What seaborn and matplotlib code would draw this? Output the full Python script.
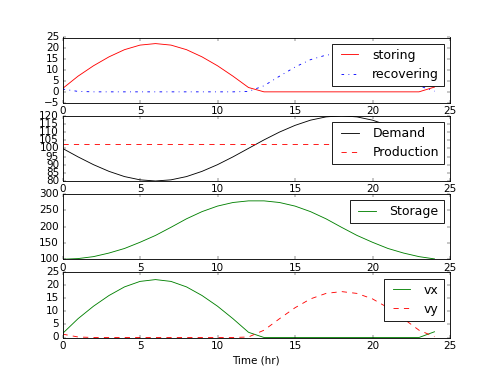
import pandas as pd
import matplotlib
matplotlib.use("Agg")
import matplotlib.pyplot as plt
import seaborn as sns

# Hourly values
hours = list(range(25))

storing = [1.5, 7.2, 12.0, 16.1, 19.4, 21.5, 22.2, 21.5, 19.4, 16.1, 12.0, 7.2, 2.0,
           0, 0, 0, 0, 0, 0, 0, 0, 0, 0, 0, 2.2]
recovering = [1.3, 0.2, 0, 0, 0, 0, 0, 0, 0, 0, 0, 0, 0.2,
              2.8, 7.2, 11.4, 14.8, 16.9, 17.6, 16.9, 14.8, 11.4, 7.2, 2.8, 0.3]

demand = [100.0, 94.8, 90.0, 85.9, 82.7, 80.7, 80.0, 80.7, 82.7, 85.9, 90.0, 94.8, 100.0,
          105.2, 110.0, 114.1, 117.3, 119.3, 120.0, 119.3, 117.3, 114.1, 110.0, 105.2, 100.0]
production = [102.5] * 25

storage = [100, 102, 108, 119, 133, 152, 173, 198, 224, 246, 263, 274, 279,
           279, 274, 263, 246, 224, 198, 173, 152, 133, 119, 108, 101]

# vx / vy are the same charge / discharge rates
vx = storing
vy = recovering

df = pd.DataFrame({
    "t": hours,
    "storing": storing,
    "recovering": recovering,
    "Demand": demand,
    "Production": production,
    "Storage": storage,
    "vx": vx,
    "vy": vy,
})

# old-school matplotlib look
plt.style.use("classic")

fig = plt.figure(figsize=(8, 6))

# Panel 1: storing / recovering
ax1 = plt.subplot(4, 1, 1)
sns.lineplot(data=df, x="t", y="storing", color="r", linestyle="-", label="storing", ax=ax1)
sns.lineplot(data=df, x="t", y="recovering", color="b", linestyle="-.", label="recovering", ax=ax1)
ax1.set_ylim(-5, 25)

# Panel 2: demand vs production
ax2 = plt.subplot(4, 1, 2)
sns.lineplot(data=df, x="t", y="Demand", color="k", linestyle="-", label="Demand", ax=ax2)
sns.lineplot(data=df, x="t", y="Production", color="red", linestyle="--",
             label="Production", ax=ax2)
ax2.set_ylim(80, 120)

# Panel 3: storage level
ax3 = plt.subplot(4, 1, 3)
sns.lineplot(data=df, x="t", y="Storage", color="g", linestyle="-", label="Storage", ax=ax3)
ax3.set_ylim(100, 300)

# Panel 4: vx / vy
ax4 = plt.subplot(4, 1, 4)
sns.lineplot(data=df, x="t", y="vx", color="g", linestyle="-", label="vx", ax=ax4)
sns.lineplot(data=df, x="t", y="vy", color="r", linestyle="--", label="vy", ax=ax4)
ax4.set_ylim(0, 25)

for ax in [ax1, ax2, ax3, ax4]:
    ax.set_xlim(0, 25)
    ax.set_xlabel("")
    ax.set_ylabel("")
    ax.legend(loc="upper right")

ax4.set_xlabel("Time (hr)")

plt.savefig("out.png", dpi=62.5)
